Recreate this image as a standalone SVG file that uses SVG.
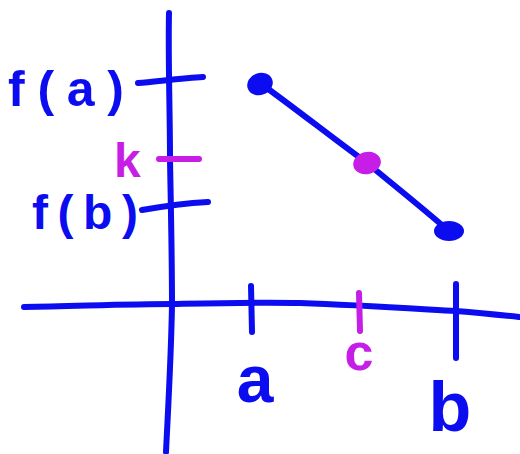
<svg xmlns="http://www.w3.org/2000/svg" width="520" height="454" viewBox="0 0 520 454">
<style>
.b{stroke:#0c0cf0;fill:none;stroke-width:6;stroke-linecap:round;stroke-linejoin:round}
.m{stroke:#c61ee6;fill:none;stroke-width:6;stroke-linecap:round;stroke-linejoin:round}
.tb{fill:#0c0cf0;font-family:"Liberation Sans",Arial,sans-serif;font-weight:bold}
.tm{fill:#c61ee6;font-family:"Liberation Sans",Arial,sans-serif;font-weight:bold}
</style>
<rect width="520" height="454" fill="#ffffff"/>
<g id="axes">
<path class="b" d="M169,13 C168,60 170,110 170,160 C171,210 172,260 172,305 C171,360 168,410 166,452"/>
<path class="b" d="M24,307 C80,306 130,304 172,304 C220,303 260,302 300,303 C360,305 420,309 456,311 C480,313 500,315 519,317"/>
</g>
<g id="y-ticks">
<path class="b" d="M138,83 C160,81 185,78 203,77"/>
<path class="m" d="M159,159 L199,159"/>
<path class="b" d="M142,210 C165,206 190,203 208,202"/>
</g>
<g id="x-ticks">
<path class="b" d="M251,286 L252,332"/>
<path class="m" d="M359,293 L360,331"/>
<path class="b" d="M456,284 L456,358"/>
</g>
<g id="labels">
<text class="tb" x="8" y="106" font-size="50" textLength="116" lengthAdjust="spacing">f(a)</text>
<text class="tm" x="114" y="177" font-size="48">k</text>
<text class="tb" x="32" y="229" font-size="48" textLength="106" lengthAdjust="spacing">f(b)</text>
<text class="tb" x="255" y="402" font-size="66" text-anchor="middle">a</text>
<text class="tm" x="359" y="370" font-size="52" text-anchor="middle">c</text>
<text class="tb" x="450" y="431" font-size="70" text-anchor="middle">b</text>
</g>
<g id="segment">
<path class="b" d="M260,83 C300,112 330,136 367,163 C395,186 425,210 450,232"/>
</g>
<g id="point-a">
<ellipse cx="260" cy="84" rx="13" ry="11" fill="#0c0cf0" transform="rotate(-20 260 84)"/>
</g>
<g id="point-c">
<ellipse cx="367" cy="163" rx="14" ry="11" fill="#c61ee6" transform="rotate(-15 367 163)"/>
</g>
<g id="point-b">
<ellipse cx="449" cy="231" rx="15" ry="10" fill="#0c0cf0"/>
</g>
</svg>
